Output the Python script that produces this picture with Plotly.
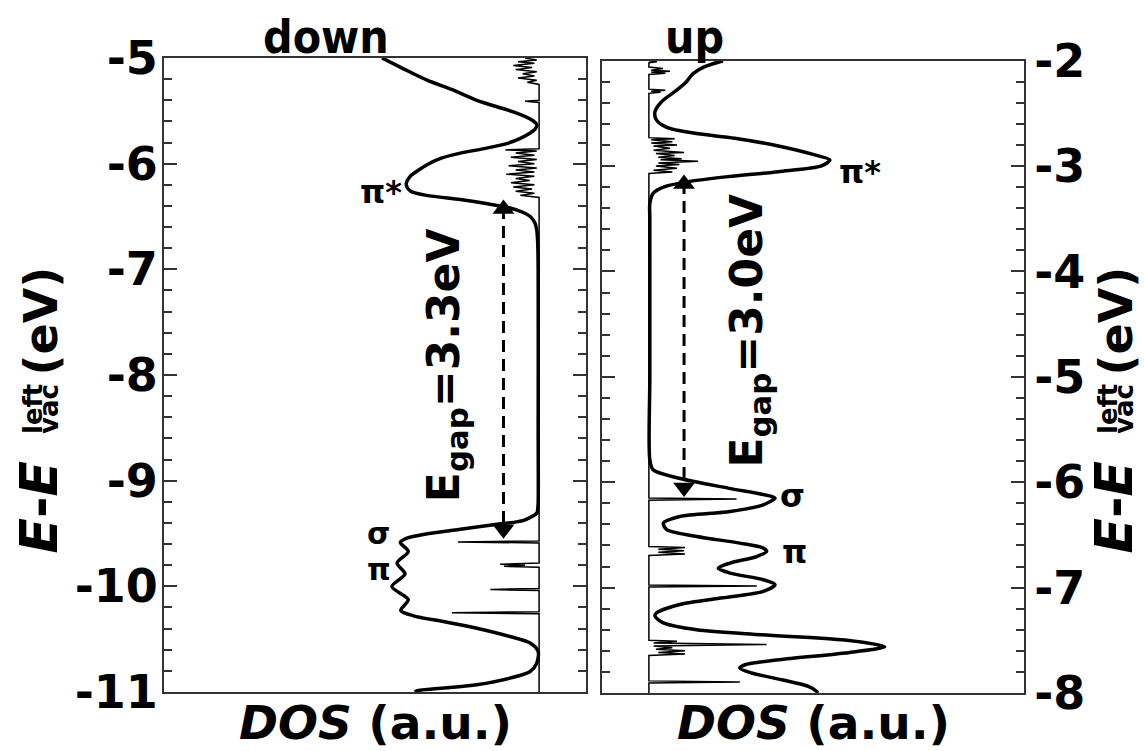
import plotly.graph_objects as go

W, H = 1144, 751
FONT = "DejaVu Sans"
FONT_TITLE = "DejaVu Sans Condensed"

# ---------------- data ----------------
# spin-down panel: smoothed DOS (thick) and raw DOS (thin)
down_E_smooth = [-5.00, -5.10, -5.21, -5.30, -5.40, -5.51, -5.58, -5.63, -5.67, -5.71, -5.76, -5.81,
                 -5.86, -5.90, -5.95, -6.01, -6.07, -6.12, -6.18, -6.22, -6.26, -6.30, -6.34, -6.38,
                 -6.42, -6.46, -6.50, -6.56, -6.63, -6.75, -7.00, -8.50, -9.21, -9.27, -9.307, -9.375,
                 -9.418, -9.459, -9.503, -9.544, -9.585, -9.670, -9.780, -9.882, -10.002, -10.125,
                 -10.228, -10.279, -10.333, -10.396, -10.475, -10.537, -10.617, -10.727, -10.806,
                 -10.869, -10.932, -10.963, -10.989, -11.00]
down_D_smooth = [3.35, 2.90, 2.39, 1.85, 1.33, 0.55, 0.18, 0.05, 0.08, 0.19, 0.40, 0.69,
                 1.20, 1.68, 2.10, 2.39, 2.60, 2.75, 2.83, 2.82, 2.74, 2.40, 1.68, 1.10,
                 0.62, 0.35, 0.19, 0.09, 0.05, 0.03, 0.02, 0.02, 0.02, 0.03, 0.05, 0.33,
                 0.97, 1.68, 2.39, 2.82, 2.96, 2.79, 3.03, 2.86, 3.14, 2.79,
                 2.95, 2.68, 2.04, 1.33, 0.62, 0.19, 0.02, 0.05, 0.19,
                 0.62, 1.33, 2.04, 2.61, 2.65]

down_E_raw = [-5.00, -5.02, -5.035, -5.05, -5.07, -5.09, -5.11, -5.13, -5.15, -5.17, -5.19, -5.21, -5.23, -5.25,
              -5.40, -5.41, -5.42,
              -5.86, -5.87, -5.88, -5.90, -5.92, -5.94, -5.96, -5.98, -6.00, -6.02, -6.04, -6.06, -6.08,
              -6.10, -6.12, -6.14, -6.16, -6.18, -6.20, -6.22, -6.24, -6.26, -6.28, -6.30, -6.32,
              -9.57, -9.58, -9.59,
              -9.78, -9.79, -9.80, -9.81, -9.82,
              -10.02, -10.03, -10.04,
              -10.24, -10.25, -10.26,
              -11.00]
down_D_raw = [0.30, 0.05, 0.45, 0.10, 0.55, 0.15, 0.50, 0.05, 0.35, 0.10, 0.45, 0.05, 0.25, 0.00,
              0.00, 0.30, 0.00,
              0.00, 0.72, 0.05, 0.50, 0.10, 0.60, 0.05, 0.45, 0.10, 0.65, 0.05, 0.50, 0.10,
              0.70, 0.10, 0.50, 0.20, 0.60, 0.10, 0.55, 0.15, 0.50, 0.10, 0.40, 0.00,
              0.00, 1.73, 0.00,
              0.00, 0.83, 0.30, 0.75, 0.00,
              0.00, 1.04, 0.00,
              0.00, 1.86, 0.00,
              0.00]

# spin-up panel
up_E_smooth = [-2.00, -2.057, -2.12, -2.215, -2.294, -2.389, -2.484, -2.562, -2.632, -2.689, -2.736,
               -2.809, -2.894, -2.942, -2.999, -3.053, -3.100, -3.148, -3.195, -3.258, -3.353, -3.50,
               -5.00, -5.787, -5.882, -5.96, -6.056, -6.135, -6.151, -6.214, -6.278, -6.325, -6.388,
               -6.45, -6.515, -6.578, -6.625, -6.657, -6.705, -6.767, -6.815, -6.862, -6.925, -6.972,
               -7.035, -7.097, -7.16, -7.241, -7.27, -7.335, -7.40, -7.447, -7.498, -7.561, -7.62,
               -7.684, -7.732, -7.763, -7.81, -7.874, -7.937, -7.985, -8.00]
up_D_smooth = [1.58, 1.19, 0.95, 0.77, 0.55, 0.27, 0.13, 0.16, 0.38, 0.98, 1.83,
               2.76, 3.54, 3.86, 3.68, 2.76, 1.69, 0.84, 0.34, 0.09, 0.02, 0.02,
               0.02, 0.02, 0.09, 0.62, 1.69, 2.62, 2.69, 2.44, 1.73, 0.66, 0.31,
               0.38, 1.02, 1.94, 2.44, 2.51, 2.30, 1.73, 1.48, 1.73, 2.44, 2.69,
               2.44, 1.58, 0.66, 0.16, 0.13, 0.31, 1.02, 2.40, 4.18, 5.03, 4.18,
               2.78, 2.05, 1.94, 2.19, 2.83, 3.40, 3.58, 3.60]

up_E_raw = [-2.00, -2.01, -2.02, -2.06, -2.075, -2.09, -2.10, -2.11, -2.12, -2.13, -2.27, -2.28, -2.29, -2.30, -2.31,
            -2.73, -2.74, -2.75, -2.77, -2.78, -2.80, -2.81, -2.83, -2.85, -2.87, -2.88, -2.90, -2.915, -2.93,
            -2.94, -2.955, -2.97, -2.985, -3.00, -3.02, -3.04, -3.055, -3.07,
            -6.15, -6.16, -6.17,
            -6.61, -6.62, -6.635, -6.65, -6.665, -6.68, -6.695,
            -6.975, -6.985, -6.995,
            -7.50, -7.51, -7.525, -7.54, -7.555, -7.57, -7.585, -7.60, -7.615, -7.63, -7.645,
            -7.885, -7.895, -7.905,
            -8.00]
up_D_raw = [0.00, 0.17, 0.00, 0.00, 0.30, 0.05, 0.45, 0.05, 0.35, 0.00, 0.00, 0.35, 0.05, 0.25, 0.00,
            0.00, 0.55, 0.05, 0.50, 0.05, 0.60, 0.10, 0.45, 0.10, 0.75, 0.15, 0.55, 0.20, 0.70,
            0.25, 1.05, 0.20, 0.65, 0.15, 0.60, 0.10, 0.50, 0.00,
            0.00, 1.87, 0.00,
            0.00, 0.77, 0.20, 0.75, 0.20, 0.77, 0.00,
            0.00, 2.30, 0.00,
            0.00, 0.60, 0.10, 2.51, 0.10, 0.50, 0.15, 0.77, 0.20, 0.77, 0.00,
            0.00, 1.94, 0.00,
            0.00]

# gap arrows: (DOS position, top energy, bottom energy)
down_gap = [0.76, -6.36, -9.53]
up_gap = [0.75, -3.10, -6.12]
gap_labels = ["E<sub>gap</sub>=3.3eV", "E<sub>gap</sub>=3.0eV"]

down_ticks = [-5, -6, -7, -8, -9, -10, -11]
down_ticktext = ["-5", "-6", "-7", "-8", "-9", "-10", "-11"]
up_ticks = [-2, -3, -4, -5, -6, -7, -8]
up_ticktext = ["-2", "-3", "-4", "-5", "-6", "-7", "-8"]

panel_titles = ["down", "up"]
peak_labels_down = [("π*", 3.37, -6.268), ("σ", 3.43, -9.50), ("π", 3.41, -9.84)]
peak_labels_up = [("π*", 4.50, -3.056), ("σ", 3.07, -6.13), ("π", 3.11, -6.66)]

# ---------------- figure ----------------
def px(x):
    return x / W

def py(y):
    return 1 - y / H

fig = go.Figure()
thick = dict(color="black", width=3.5, shape="spline", smoothing=0.8)
thin = dict(color="black", width=1.5)

fig.add_trace(go.Scatter(x=down_D_raw, y=down_E_raw, mode="lines", line=thin, xaxis="x", yaxis="y"))
fig.add_trace(go.Scatter(x=down_D_smooth, y=down_E_smooth, mode="lines", line=thick, xaxis="x", yaxis="y"))
fig.add_trace(go.Scatter(x=up_D_raw, y=up_E_raw, mode="lines", line=thin, xaxis="x2", yaxis="y2"))
fig.add_trace(go.Scatter(x=up_D_smooth, y=up_E_smooth, mode="lines", line=thick, xaxis="x2", yaxis="y2"))

# gap arrows
for gap, xa, ya in [(down_gap, "x", "y"), (up_gap, "x2", "y2")]:
    fig.add_trace(go.Scatter(x=[gap[0], gap[0]], y=[gap[1] - 0.05, gap[2] + 0.05], mode="lines",
                             line=dict(color="black", width=3, dash="12px,7px"), xaxis=xa, yaxis=ya))
    fig.add_trace(go.Scatter(x=[gap[0], gap[0]], y=[gap[1] - 0.07, gap[2] + 0.07], mode="markers",
                             marker=dict(symbol=["triangle-up", "triangle-down"], size=19, color="black",
                                         line=dict(width=0)), xaxis=xa, yaxis=ya))

axis_line = dict(showline=True, linecolor="#333333", linewidth=2, mirror=True,
                 showgrid=False, zeroline=False)
xcommon = dict(axis_line, ticks="", showticklabels=False)
ycommon = dict(axis_line, mirror="allticks", ticks="inside", ticklen=13, tickwidth=1.6,
               tickcolor="#333333", tickmode="array",
               minor=dict(ticks="inside", ticklen=8, tickwidth=1.6, tickcolor="#333333",
                          dtick=0.2, tick0=0, showgrid=False),
               tickfont=dict(family=FONT, size=46, color="black", weight="bold"), automargin=False)

fig.update_layout(
    width=W, height=H, margin=dict(l=0, r=0, t=0, b=0),
    paper_bgcolor="white", plot_bgcolor="white", showlegend=False,
    xaxis=dict(xcommon, domain=[px(164), px(586)], range=[8, -1], anchor="y"),
    yaxis=dict(ycommon, domain=[py(692), py(58)], range=[-11, -5], anchor="x",
               tickvals=down_ticks, ticktext=down_ticktext, side="left", ticklabelstandoff=-5),
    xaxis2=dict(xcommon, domain=[px(602), px(1024)], range=[-1, 8], anchor="y2"),
    yaxis2=dict(ycommon, domain=[py(693), py(60.7)], range=[-8, -2], anchor="x2",
                tickvals=up_ticks, ticktext=up_ticktext, side="right", ticklabelstandoff=-1),
)

ann = []
def bold(size, family=FONT):
    return dict(family=family, size=size, color="black", weight="bold")

# panel titles
ann.append(dict(text=panel_titles[0], x=px(326), y=py(37), xref="paper", yref="paper",
                xanchor="center", yanchor="middle", showarrow=False, font=bold(46, FONT_TITLE)))
ann.append(dict(text=panel_titles[1], x=px(694), y=py(37), xref="paper", yref="paper",
                xanchor="center", yanchor="middle", showarrow=False, font=bold(46, FONT_TITLE)))
# DOS labels
for cx in (375, 813):
    ann.append(dict(text="<i>DOS</i> (a.u.)", x=px(cx), y=py(722), xref="paper", yref="paper",
                    xanchor="center", yanchor="middle", showarrow=False, font=bold(47)))
# gap labels
ann.append(dict(text=gap_labels[0], x=1.96, y=-7.905, xref="x", yref="y", textangle=-90,
                showarrow=False, font=bold(44)))
ann.append(dict(text=gap_labels[1], x=2.15, y=-4.564, xref="x2", yref="y2", textangle=-90,
                showarrow=False, font=bold(44)))
# peak labels
for t, xx, yy in peak_labels_down:
    ann.append(dict(text=t, x=xx, y=yy, xref="x", yref="y", showarrow=False,
                    font=bold(32 if t == "π*" else 30)))
for t, xx, yy in peak_labels_up:
    ann.append(dict(text=t, x=xx, y=yy, xref="x2", yref="y2", showarrow=False, font=bold(32)))

# y-axis labels  E-E^left_vac (eV)
for base in (56, 1131):
    ann.append(dict(text="(eV)", x=px(base - 0.346 * 46), y=py(265), xref="paper", yref="paper",
                    xanchor="center", yanchor="top", textangle=-90, showarrow=False, font=bold(46)))
    ann.append(dict(text="<i>E</i>-<i>E</i>", x=px(base - 0.346 * 52), y=py(556), xref="paper", yref="paper",
                    xanchor="center", yanchor="bottom", textangle=-90, showarrow=False, font=bold(52)))
    ann.append(dict(text="left", x=px(base - 14 - 0.346 * 26), y=py(436), xref="paper", yref="paper",
                    xanchor="center", yanchor="bottom", textangle=-90, showarrow=False, font=bold(26)))
    ann.append(dict(text="vac", x=px(base + 2 - 0.346 * 26), y=py(436), xref="paper", yref="paper",
                    xanchor="center", yanchor="bottom", textangle=-90, showarrow=False, font=bold(26)))

fig.update_layout(annotations=ann)
fig.write_html("out.html")
